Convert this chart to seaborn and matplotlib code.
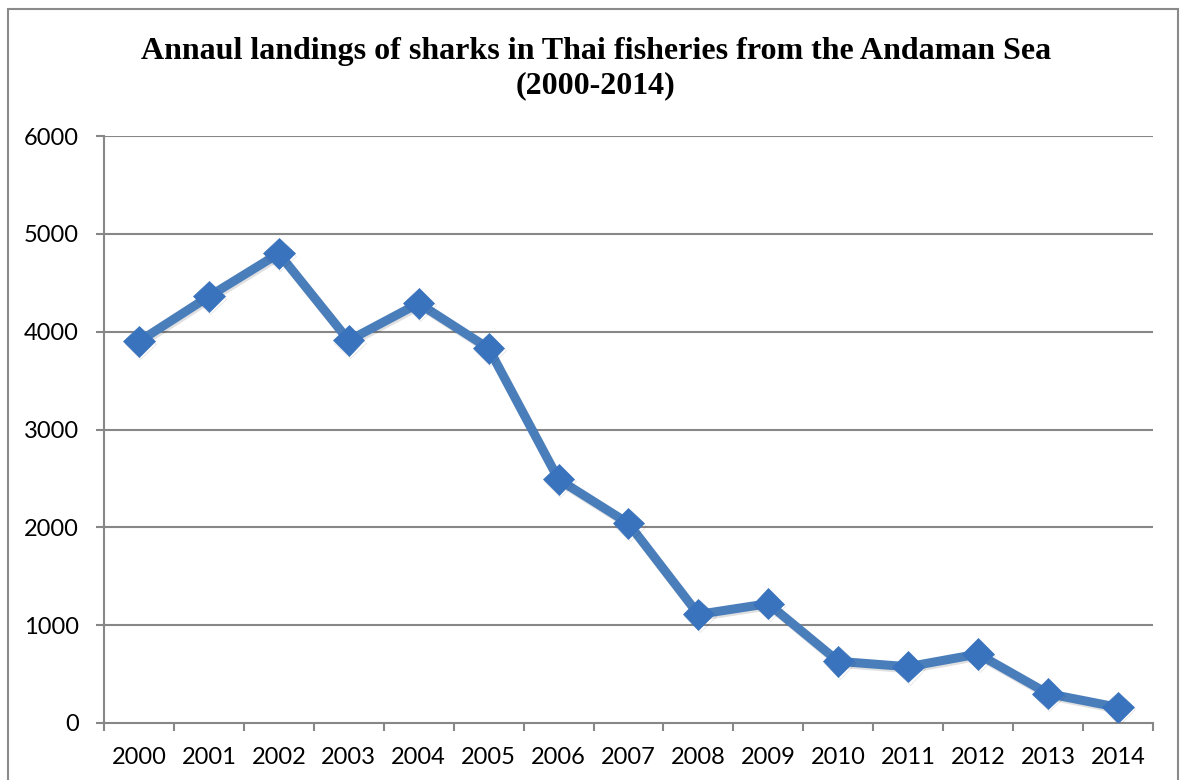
import matplotlib
matplotlib.use("Agg")
import matplotlib.pyplot as plt
import matplotlib.patheffects as pe
from matplotlib.patches import Rectangle
import seaborn as sns
import pandas as pd
import numpy as np

years = ["2000", "2001", "2002", "2003", "2004", "2005", "2006", "2007",
         "2008", "2009", "2010", "2011", "2012", "2013", "2014"]
landings = [3900, 4360, 4800, 3910, 4290, 3830, 2490, 2040,
            1110, 1220, 630, 575, 705, 300, 160]
y_ticks = [0, 1000, 2000, 3000, 4000, 5000, 6000]

sns.set_theme(style="white")
plt.rcParams["font.family"] = ["Lato", "DejaVu Sans"]

df = pd.DataFrame({"pos": np.arange(len(years)), "landings": landings})

fig = plt.figure(figsize=(11.83, 7.80), dpi=100)
ax = fig.add_axes([0.0879, 0.0731, 0.9746 - 0.0879, 0.8256 - 0.0731])

grid_col = "#878787"
line_col = "#4a7ebb"
mark_col = "#3a73bd"

sns.lineplot(data=df, x="pos", y="landings", ax=ax, color=line_col,
             linewidth=6.5, marker="D", markersize=16,
             markerfacecolor=mark_col, markeredgecolor=mark_col,
             markeredgewidth=0.5, zorder=3,
             path_effects=[pe.SimpleLineShadow(offset=(1, -1.5), alpha=0.12, shadow_color="black"),
                           pe.Normal()])

ax.set_xlim(-0.5, len(years) - 0.5)
ax.set_ylim(0, 6000)
ax.set_yticks(y_ticks)
ax.set_yticklabels([str(v) for v in y_ticks])
ax.set_xticks(np.arange(len(years)))
ax.set_xticklabels(years)
ax.set_xticks(np.arange(len(years) + 1) - 0.5, minor=True)

for v in y_ticks[1:]:
    ax.axhline(v, color=grid_col, linewidth=1.5, zorder=1)

for side in ["top", "right"]:
    ax.spines[side].set_visible(False)
for side in ["left", "bottom"]:
    ax.spines[side].set_color(grid_col)
    ax.spines[side].set_linewidth(1.5)

ax.tick_params(axis="x", which="major", length=0, pad=17, labelsize=17, colors="black")
ax.tick_params(axis="x", which="minor", direction="out", length=6, width=1.5,
               color=grid_col, bottom=True)
ax.tick_params(axis="y", which="major", direction="out", length=6, width=1.5,
               color=grid_col, left=True, pad=12, labelsize=17, labelcolor="black")
ax.set_xlabel("")
ax.set_ylabel("")

fig.text(0.5035, 0.9125, "Annaul landings of sharks in Thai fisheries from the Andaman Sea\n(2000-2014)",
         ha="center", va="center", fontsize=23, fontweight="bold", color="black",
         family=["Liberation Serif", "DejaVu Serif"], linespacing=1.25)

fig.patches.append(Rectangle((8 / 1183, -0.05), (1178 - 8) / 1183, 1.05 - 9 / 780,
                             transform=fig.transFigure, fill=False,
                             edgecolor="#8a8a8a", linewidth=1.5))

fig.savefig("out.png", dpi=100)
